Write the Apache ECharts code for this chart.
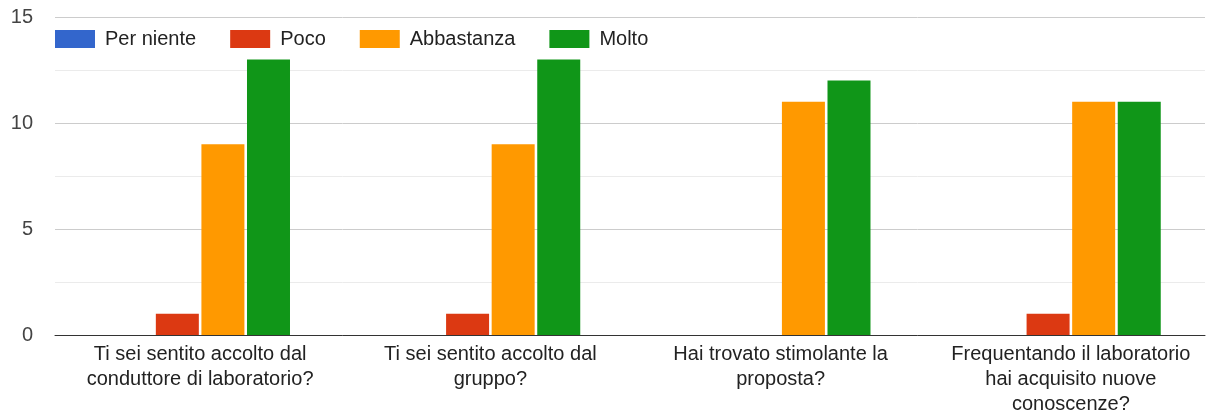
<!DOCTYPE html>
<html><head><meta charset="utf-8">
<script src="https://cdn.jsdelivr.net/npm/echarts@6/dist/echarts.min.js"></script>
<style>html,body{margin:0;padding:0;background:#fff}#c{width:1213px;height:413px}</style>
</head><body><div id="c"></div>
<script>
const categories = [
  "Ti sei sentito accolto dal\nconduttore di laboratorio?",
  "Ti sei sentito accolto dal\ngruppo?",
  "Hai trovato stimolante la\nproposta?",
  "Frequentando il laboratorio\nhai acquisito nuove\nconoscenze?"
];
const seriesNames = ["Per niente", "Poco", "Abbastanza", "Molto"];
const perNiente = [0, 0, 0, 0];
const poco = [1, 1, 0, 1];
const abbastanza = [9, 9, 11, 11];
const molto = [13, 13, 12, 11];
const yTicks = {min: 0, max: 15, interval: 5};
const colors = ["#3366cc", "#dc3912", "#ff9900", "#109618"];
const values = [perNiente, poco, abbastanza, molto];

const chart = echarts.init(document.getElementById('c'), null, {renderer: 'canvas'});
chart.setOption({
  animation: false,
  color: colors,
  textStyle: {fontFamily: '"Liberation Sans", Arial, sans-serif'},
  legend: {
    left: 55, top: 29, itemWidth: 40, itemHeight: 18, itemGap: 34,
    icon: 'rect', padding: 0,
    textStyle: {fontSize: 20, color: '#222', padding: [0, 0, 0, 5]}
  },
  grid: [
    {left: 55, right: 8, top: 17, bottom: 78, containLabel: false, outerBoundsMode: 'none'},
    {left: 55, right: -3, top: 17, bottom: 78, containLabel: false, outerBoundsMode: 'none'}
  ],
  xAxis: [
    {
      gridIndex: 0, type: 'category', data: categories,
      axisTick: {show: false}, axisLabel: {show: false},
      axisLine: {lineStyle: {color: '#333', width: 1}}
    },
    {
      gridIndex: 1, type: 'category', data: categories,
      axisTick: {show: false}, axisLine: {show: false},
      axisLabel: {fontSize: 20, color: '#222', margin: 7, lineHeight: 25, interval: 0}
    }
  ],
  yAxis: [
    {
      gridIndex: 0, type: 'value', min: yTicks.min, max: yTicks.max, interval: yTicks.interval,
      axisLabel: {fontSize: 20, color: '#444', margin: 22},
      splitLine: {lineStyle: {color: '#ccc'}},
      minorTick: {show: false, splitNumber: 2},
      minorSplitLine: {show: true, lineStyle: {color: '#ebebeb'}}
    },
    {
      gridIndex: 1, type: 'value', min: yTicks.min, max: yTicks.max, interval: yTicks.interval,
      show: false, splitLine: {show: false}
    }
  ],
  series: seriesNames.map((n, i) => ({
    name: n, type: 'bar', data: values[i], xAxisIndex: 1, yAxisIndex: 1,
    barWidth: 43, barGap: '6%'
  }))
});
</script></body></html>
